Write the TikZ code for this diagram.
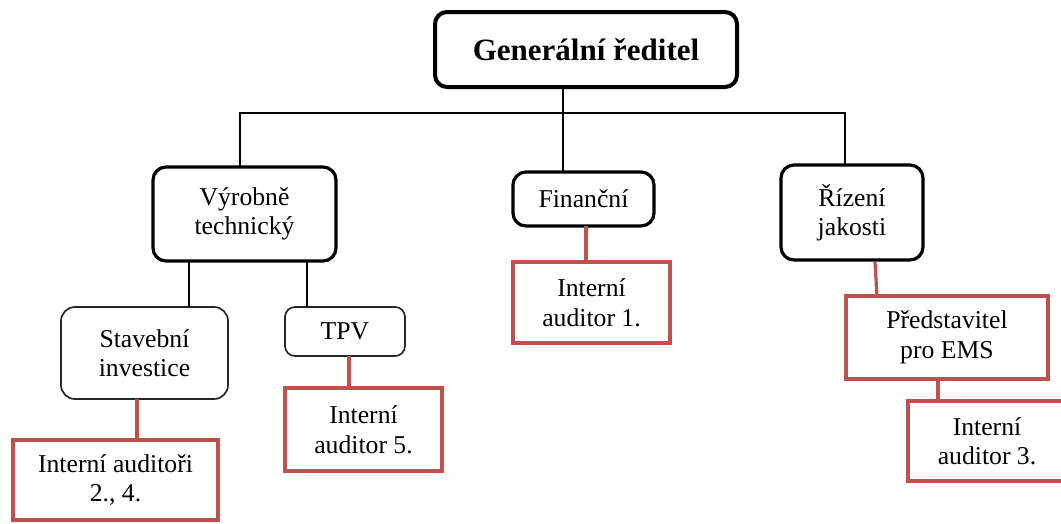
\documentclass[tikz,border=0pt]{standalone}
\usepackage{fontspec}
\setmainfont{Liberation Serif}
\definecolor{auditred}{RGB}{192,80,77}
\tikzset{
  box/.style={draw=black, inner sep=0pt, outer sep=0pt, align=center,
    font=\fontsize{25.7}{29.5}\selectfont},
  headbox/.style={box, line width=4pt, rounded corners=12pt,
    font=\fontsize{31}{34}\selectfont\bfseries},
  deptbox/.style={box, line width=3.2pt, rounded corners=13pt},
  unitbox/.style={box, draw=black!85, line width=1.7pt, rounded corners=14pt},
  auditbox/.style={box, draw=auditred, line width=3.4pt},
  link/.style={draw=black, line width=1.7pt},
  redlink/.style={draw=auditred, line width=3.2pt},
}
\begin{document}
\begin{tikzpicture}[x=1pt, y=-1pt]
\useasboundingbox (0,0) rectangle (1061,523);
\clip (0,0) rectangle (1061,523);

% management levels
\node[headbox, minimum width=302, minimum height=75] (gen) at (586,49.5) {Generální ředitel};
\node[deptbox, minimum width=183, minimum height=94] (vyr) at (244.5,214) {Výrobně\\technický};
\node[deptbox, minimum width=141, minimum height=54] (fin) at (583.5,199) {Finanční};
\node[deptbox, minimum width=142, minimum height=95] (riz) at (852,212.5) {Řízení\\jakosti};
\node[unitbox, minimum width=167, minimum height=92] (stav) at (144.5,353) {Stavební\\investice};
\node[unitbox, minimum width=120, minimum height=49, rounded corners=10pt] (tpv) at (345,331.5) {TPV};

% internal auditors
\node[auditbox, minimum width=205, minimum height=80] (a24) at (115.5,480) {Interní auditoři\\2., 4.};
\node[auditbox, minimum width=157, minimum height=83] (a5) at (363.5,429.5) {Interní\\auditor 5.};
\node[auditbox, minimum width=157, minimum height=81] (a1) at (591.5,302.5) {Interní\\auditor 1.};
\node[auditbox, minimum width=202, minimum height=83] (ems) at (947,337.5) {Představitel\\pro EMS};
\node[auditbox, minimum width=158, minimum height=80] (a3) at (987,441) {Interní\\auditor 3.};

% connector columns
\coordinate (bus) at (563,113);
\coordinate (busL) at (240,113);
\coordinate (busR) at (845,113);
\coordinate (xs) at (189,0);
\coordinate (xt) at (307,0);
\coordinate (xa24) at (137,0);
\coordinate (xa5) at (349,0);
\coordinate (xa1) at (586,0);
\coordinate (xems) at (938,0);
\coordinate (rz1) at (875,262);
\coordinate (rz2) at (877,296);

% black connectors
\draw[link] (bus |- gen.south) -- (bus |- fin.north);
\draw[link] (busL |- vyr.north) -- (busL) -- (busR) -- (busR |- riz.north);
\draw[link] (xs |- vyr.south) -- (xs |- stav.north);
\draw[link] (xt |- vyr.south) -- (xt |- tpv.north);

% red connectors
\draw[redlink] (xa24 |- stav.south) -- (xa24 |- a24.north);
\draw[redlink] (xa5 |- tpv.south) -- (xa5 |- a5.north);
\draw[redlink] (xa1 |- fin.south) -- (xa1 |- a1.north);
\draw[redlink] (rz1) -- (rz2 |- ems.north);
\draw[redlink] (xems |- ems.south) -- (xems |- a3.north);
\end{tikzpicture}
\end{document}
